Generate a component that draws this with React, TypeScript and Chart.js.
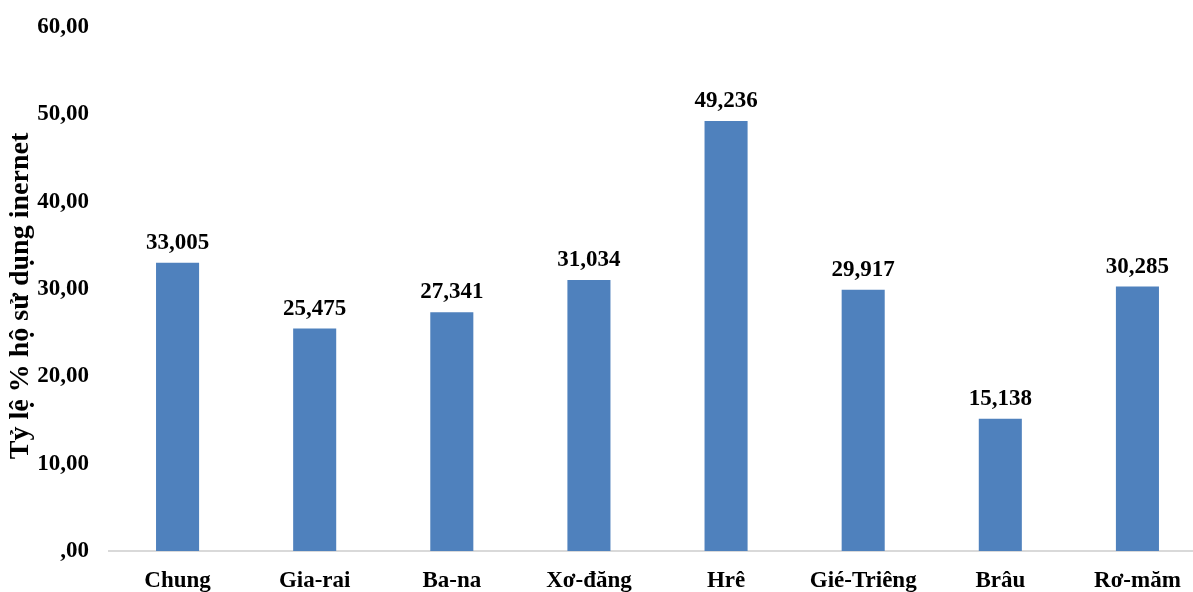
import React, { useEffect, useRef } from "react";
import { Chart, registerables } from "chart.js";

Chart.register(...registerables);

const categories = ["Chung", "Gia-rai", "Ba-na", "Xơ-đăng", "Hrê", "Gié-Triêng", "Brâu", "Rơ-măm"];
const values = [33.005, 25.475, 27.341, 31.034, 49.236, 29.917, 15.138, 30.285];
const yTitle = "Tỷ lệ % hộ sử dụng inernet";
const yMin = 0;
const yMax = 60;
const yStep = 10;

const FONT = "'Liberation Serif', 'Times New Roman', serif";
const BAR_COLOR = "#4F81BD";

const fmtTick = (v: number) => {
  const s = v.toFixed(2).replace(".", ",");
  return s.startsWith("0,") ? s.slice(1) : s;
};
const fmtLabel = (v: number) => v.toFixed(3).replace(".", ",");

const labelPlugin = {
  id: "barLabels",
  afterDatasetsDraw(chart: any) {
    const { ctx } = chart;
    const meta = chart.getDatasetMeta(0);
    ctx.save();
    ctx.font = `bold 23px ${FONT}`;
    ctx.fillStyle = "#000";
    ctx.textAlign = "center";
    ctx.textBaseline = "alphabetic";
    meta.data.forEach((bar: any, i: number) => {
      ctx.fillText(fmtLabel(values[i]), bar.x, bar.y - 14);
    });
    ctx.restore();
  },
};

const titlePlugin = {
  id: "yTitle",
  afterDraw(chart: any) {
    const { ctx, chartArea } = chart;
    ctx.save();
    ctx.font = `bold 28px ${FONT}`;
    ctx.fillStyle = "#000";
    ctx.textAlign = "center";
    ctx.textBaseline = "middle";
    ctx.translate(21, (chartArea.top + chartArea.bottom) / 2 + 7);
    ctx.rotate(-Math.PI / 2);
    ctx.fillText(yTitle, 0, 0);
    ctx.restore();
  },
};

export default function App() {
  const ref = useRef<HTMLCanvasElement | null>(null);
  useEffect(() => {
    if (!ref.current) return;
    const chart = new Chart(ref.current, {
      type: "bar",
      data: {
        labels: categories,
        datasets: [
          {
            data: values,
            backgroundColor: BAR_COLOR,
            borderWidth: 0,
            barPercentage: 0.314,
            categoryPercentage: 1,
          },
        ],
      },
      options: {
        animation: false,
        responsive: false,
        maintainAspectRatio: false,
        layout: { padding: { top: 27, left: 0, right: 0, bottom: 0 } },
        plugins: { legend: { display: false }, tooltip: { enabled: false } },
        scales: {
          x: {
            grid: { display: false, drawTicks: false },
            border: { display: true, color: "#d9d9d9", width: 2 },
            ticks: {
              color: "#000",
              font: { family: FONT, size: 23, weight: "bold" },
              padding: 16,
              maxRotation: 0,
              autoSkip: false,
            },
            afterFit: (s: any) => {
              s.height = 41;
              s.paddingLeft = 0;
              s.paddingRight = 0;
            },
          },
          y: {
            min: yMin,
            max: yMax,
            grid: { display: false, drawTicks: false },
            border: { display: false },
            ticks: {
              stepSize: yStep,
              color: "#000",
              font: { family: FONT, size: 23, weight: "bold" },
              padding: 20,
              callback: (v: any) => fmtTick(Number(v)),
            },
            afterFit: (s: any) => {
              s.width = 109;
              s.paddingTop = 0;
              s.paddingBottom = 0;
            },
          },
        },
      },
      plugins: [labelPlugin, titlePlugin],
    });
    return () => chart.destroy();
  }, []);
  return (
    <div
      style={{
        position: "fixed",
        left: 0,
        top: 0,
        width: 1193,
        height: 592,
        overflow: "hidden",
        background: "#fff",
      }}
    >
      <canvas ref={ref} width={1206} height={592} style={{ width: 1206, height: 592, display: "block" }} />
    </div>
  );
}
